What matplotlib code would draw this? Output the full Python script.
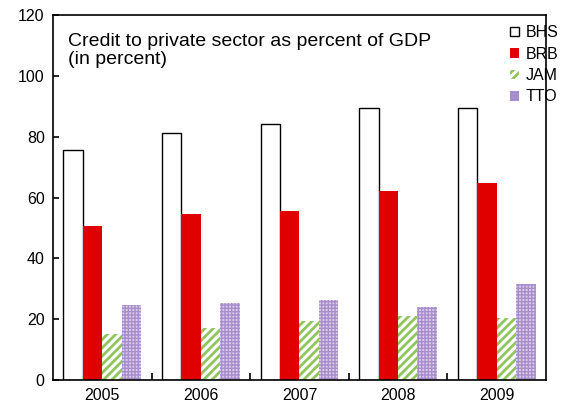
import matplotlib
matplotlib.use("Agg")
import matplotlib.pyplot as plt
import numpy as np

plt.rcParams['font.family'] = ['Liberation Sans', 'DejaVu Sans']
plt.rcParams['hatch.linewidth'] = 2.0

years = ['2005', '2006', '2007', '2008', '2009']
bhs = [75.6, 81.2, 84.2, 89.6, 89.6]
brb = [50.5, 54.6, 55.5, 62.2, 64.7]
jam = [15.1, 17.0, 19.3, 21.2, 20.4]
tto = [24.7, 25.3, 26.3, 24.0, 31.6]

fig = plt.figure(figsize=(5.64, 4.11), dpi=100)
ax = fig.add_axes([0.094, 0.0754, 0.874, 0.888])

x = np.arange(len(years))
w = 0.197

ax.bar(x - 1.5 * w, bhs, w, facecolor='white', edgecolor='black', linewidth=1.0, label='BHS')
ax.bar(x - 0.5 * w, brb, w, facecolor='#E00000', edgecolor='none', label='BRB')
ax.bar(x + 0.5 * w, jam, w, facecolor='white', edgecolor='#8FC55C', hatch='////', linewidth=0, label='JAM')
tto_bars = ax.bar(x + 1.5 * w, tto, w, facecolor='#DACDEA', edgecolor='#A88DCB', hatch='+++++',
                  linewidth=0, label='TTO')
for b in tto_bars:
    if hasattr(b, 'set_hatch_linewidth'):
        b.set_hatch_linewidth(1.0)

ax.set_xlim(-0.5, len(years) - 0.5)
ax.set_ylim(0, 120)
ax.set_yticks(range(0, 121, 20))
ax.set_xticks(x)
ax.set_xticklabels(years)
ax.set_xticks(np.arange(0.5, len(years) - 1, 1.0), minor=True)
ax.tick_params(axis='x', which='major', length=0, labelsize=11.5, pad=6)
ax.tick_params(axis='x', which='minor', direction='in', length=5, width=1.2)
ax.tick_params(axis='y', direction='in', length=4, width=1.2, labelsize=11.5, pad=6)
for s in ax.spines.values():
    s.set_linewidth(1.2)

ax.text(0.03, 0.95, 'Credit to private sector as percent of GDP\n(in percent)',
        transform=ax.transAxes, ha='left', va='top', fontsize=14, linespacing=1.08)

leg = ax.legend(loc='upper right', bbox_to_anchor=(1.026, 0.972), frameon=False, fontsize=11.5,
                handlelength=0.55, handleheight=0.55, handletextpad=0.45, labelspacing=0.4,
                borderpad=0, borderaxespad=0)

fig.savefig('out.png', dpi=100, facecolor='white')
